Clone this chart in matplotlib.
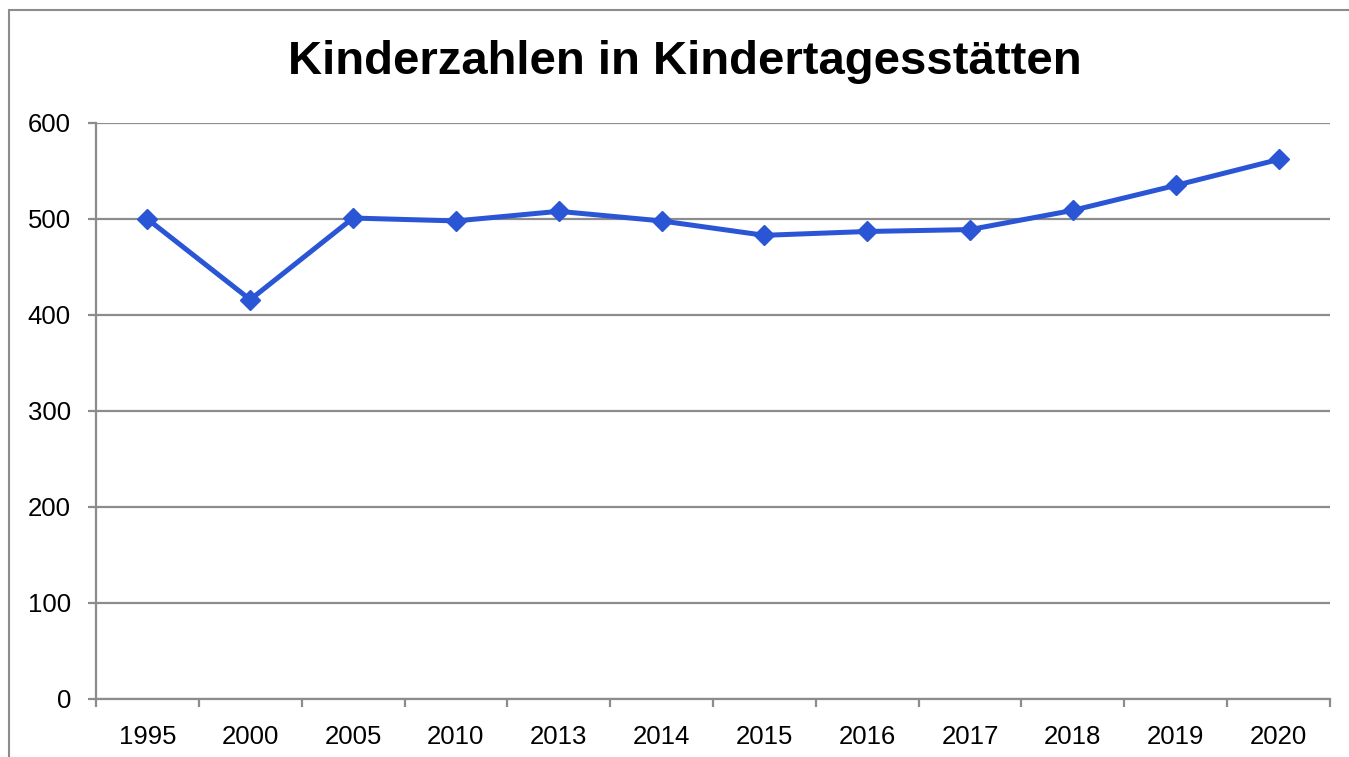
import matplotlib
matplotlib.use("Agg")
import matplotlib.pyplot as plt
from matplotlib.patches import Rectangle

plt.rcParams['font.family'] = ['Liberation Sans', 'DejaVu Sans']

# Kinderzahlen je Jahr
jahre = ['1995', '2000', '2005', '2010', '2013', '2014', '2015', '2016', '2017', '2018', '2019', '2020']
kinder = [500, 416, 501, 498, 508, 498, 483, 487, 489, 509, 535, 562]
y_ticks = [0, 100, 200, 300, 400, 500, 600]

grau = '#8c8c8c'
blau = '#2a56d6'

fig = plt.figure(figsize=(13.49, 7.57), dpi=100)
ax = fig.add_axes([96 / 1349, 58 / 757, (1330 - 96) / 1349, (699 - 123) / 757])

x = list(range(len(jahre)))
ax.plot(x, kinder, color=blau, lw=3.6, marker='D', ms=10, zorder=3)

ax.set_xlim(-0.5, len(jahre) - 0.5)
ax.set_ylim(0, 600)
ax.set_yticks(y_ticks)
ax.set_yticklabels([str(v) for v in y_ticks])
ax.yaxis.grid(True, color=grau, lw=1.6)
ax.set_axisbelow(True)

ax.set_xticks(x)
ax.set_xticklabels(jahre)
ax.set_xticks([i - 0.5 for i in range(len(jahre) + 1)], minor=True)
ax.tick_params(axis='x', which='major', length=0, pad=19, labelsize=18.5)
ax.tick_params(axis='x', which='minor', length=6, width=1.6, color=grau)
ax.tick_params(axis='y', length=6, width=1.6, color=grau, pad=12, labelsize=18.5)

for s in ['top', 'right']:
    ax.spines[s].set_visible(False)
for s in ['left', 'bottom']:
    ax.spines[s].set_color(grau)
    ax.spines[s].set_linewidth(1.6)

fig.text(685 / 1349, 1 - 62 / 757, 'Kinderzahlen in Kindertagesstätten',
         ha='center', va='center', fontsize=34, fontweight='bold')

# Rahmen um das Diagramm
fig.patches.append(Rectangle((9 / 1349, -0.1), 1.2, 1 - 10 / 757 + 0.1,
                             transform=fig.transFigure, fill=False,
                             edgecolor=grau, lw=1.5))

fig.savefig('out.png', dpi=100)
